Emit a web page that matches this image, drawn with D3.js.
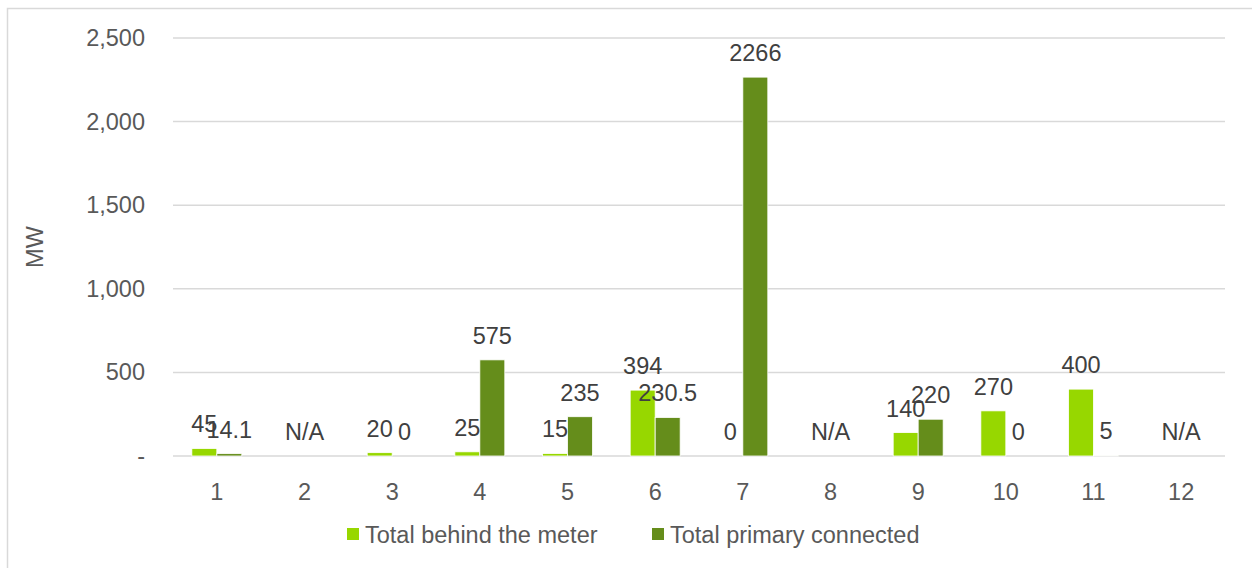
<!DOCTYPE html>
<html>
<head>
<meta charset="utf-8">
<script src="https://cdn.jsdelivr.net/npm/d3@7"></script>
<style>
  body { margin: 0; background: #fff; }
  svg { display: block; font-family: "Liberation Sans", Arial, sans-serif; }
</style>
</head>
<body>
<svg id="chart" width="1252" height="568"></svg>
<script>
const categories = ["1","2","3","4","5","6","7","8","9","10","11","12"];
const seriesNames = ["Total behind the meter", "Total primary connected"];
const behindMeter = [45, null, 20, 25, 15, 394, 0, null, 140, 270, 400, null];
const primaryConnected = [14.1, null, 0, 575, 235, 230.5, 2266, null, 220, 0, 5, null];
const yTicks = [0, 500, 1000, 1500, 2000, 2500];
const colors = ["#97d700", "#658d1b"];
const fontSize = 23.5;

const svg = d3.select("#chart");

// outer frame
svg.append("rect")
  .attr("x", 7.5).attr("y", 8.5)
  .attr("width", 1300).attr("height", 700)
  .attr("fill", "none").attr("stroke", "#d9d9d9").attr("stroke-width", 1.5);

const plotLeft = 173, plotRight = 1225, plotTop = 38, plotBottom = 456;

const y = d3.scaleLinear().domain([0, 2500]).range([plotBottom, plotTop]);
const x = d3.scaleBand().domain(categories).range([plotLeft, plotRight]).paddingInner(0.43).paddingOuter(0.215);
const x1 = d3.scaleBand().domain(seriesNames).range([0, x.bandwidth()]);

// gridlines
svg.append("g").selectAll("line")
  .data(yTicks)
  .enter().append("line")
  .attr("x1", plotLeft).attr("x2", plotRight)
  .attr("y1", d => y(d)).attr("y2", d => y(d))
  .attr("stroke", "#d9d9d9").attr("stroke-width", 1.5);

// y tick labels
svg.append("g").selectAll("text")
  .data(yTicks)
  .enter().append("text")
  .attr("x", 145)
  .attr("y", d => y(d) + 8)
  .attr("text-anchor", "end")
  .attr("font-size", fontSize)
  .attr("fill", "#595959")
  .text(d => d === 0 ? "-" : d3.format(",")(d));

// y title
svg.append("text")
  .attr("transform", "translate(43,247) rotate(-90)")
  .attr("text-anchor", "middle")
  .attr("font-size", fontSize)
  .attr("fill", "#595959")
  .text("MW");

// x tick labels
svg.append("g").selectAll("text")
  .data(categories)
  .enter().append("text")
  .attr("x", d => x(d) + x.bandwidth() / 2)
  .attr("y", 500)
  .attr("text-anchor", "middle")
  .attr("font-size", fontSize)
  .attr("fill", "#595959")
  .text(d => d);

const rows = categories.map((c, i) => ({
  cat: c,
  vals: [
    { s: seriesNames[0], v: behindMeter[i], c: colors[0] },
    { s: seriesNames[1], v: primaryConnected[i], c: colors[1] }
  ]
}));

const groups = svg.append("g").selectAll("g")
  .data(rows)
  .enter().append("g")
  .attr("transform", d => `translate(${x(d.cat)},0)`);

groups.selectAll("rect")
  .data(d => d.vals.filter(v => v.v !== null))
  .enter().append("rect")
  .attr("x", d => x1(d.s))
  .attr("width", x1.bandwidth())
  .attr("y", d => y(d.v))
  .attr("height", d => plotBottom - y(d.v))
  .attr("fill", d => d.c)
  .attr("stroke", "#ffffff").attr("stroke-width", 0.8);

groups.selectAll("text")
  .data(d => d.vals.filter(v => v.v !== null))
  .enter().append("text")
  .attr("x", d => x1(d.s) + x1.bandwidth() / 2)
  .attr("y", d => y(d.v) - 16)
  .attr("text-anchor", "middle")
  .attr("font-size", fontSize)
  .attr("fill", "#404040")
  .text(d => d.v);

// N/A labels for empty categories
groups.filter(d => d.vals.every(v => v.v === null))
  .append("text")
  .attr("x", x.bandwidth() / 2)
  .attr("y", plotBottom - 16)
  .attr("text-anchor", "middle")
  .attr("font-size", fontSize)
  .attr("fill", "#404040")
  .text("N/A");

// legend
const legendX = [347, 652];
const legend = svg.append("g").selectAll("g")
  .data(seriesNames)
  .enter().append("g")
  .attr("transform", (d, i) => `translate(${legendX[i]},528)`);
legend.append("rect")
  .attr("width", 12).attr("height", 12)
  .attr("fill", (d, i) => colors[i]);
legend.append("text")
  .attr("x", 18).attr("y", 15)
  .attr("font-size", fontSize)
  .attr("fill", "#595959")
  .text(d => d);
</script>
</body>
</html>
